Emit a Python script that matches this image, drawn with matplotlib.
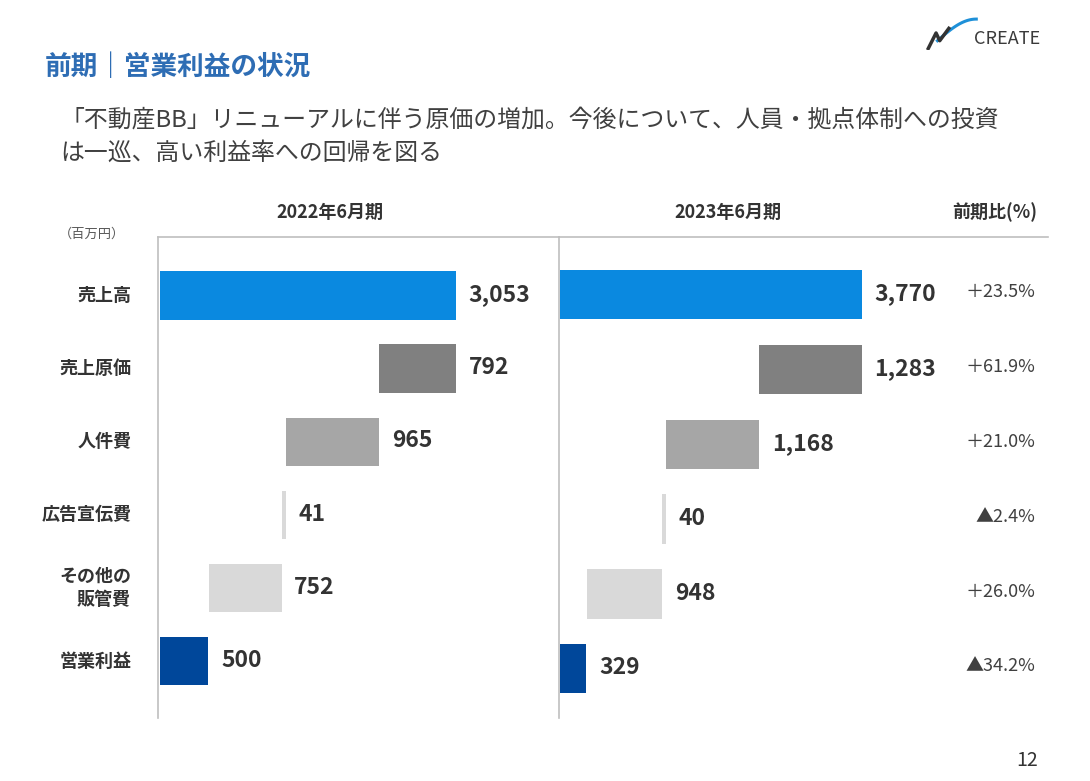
import numpy as np
import matplotlib
matplotlib.use("Agg")
import matplotlib.pyplot as plt

plt.rcParams["font.family"] = ["Noto Sans CJK JP", "DejaVu Sans"]

items = ["売上高", "売上原価", "人件費", "広告宣伝費", "その他の\n販管費", "営業利益"]
fy2022 = [3053, 792, 965, 41, 752, 500]
fy2023 = [3770, 1283, 1168, 40, 948, 329]
yoy_pct = [23.5, 61.9, 21.0, -2.4, 26.0, -34.2]
colors = ["#0A89E0", "#808080", "#A6A6A6", "#D9D9D9", "#D9D9D9", "#00479A"]

W, H = 1090, 781
fig = plt.figure(figsize=(W / 100, H / 100), dpi=100)


def fx(px):
    return px / W


def fy(py):
    return 1 - py / H


def waterfall_lefts(vals):
    lefts = [0]
    cur = vals[0]
    for v in vals[1:-1]:
        cur = cur - v
        lefts.append(cur)
    lefts.append(0)
    return np.array(lefts)


ax1 = fig.add_axes([fx(158), fy(718), fx(559 - 158), (718 - 237) / H])
ax2 = fig.add_axes([fx(559), fy(718), fx(1048 - 559), (718 - 237) / H])

rows = np.arange(len(items))
for ax, vals, xlim, ylim in [
    (ax1, fy2022, (-20.6, 4115), (5.78, -0.80)),
    (ax2, fy2023, (-12.5, 6092), (5.66, -0.77)),
]:
    lefts = waterfall_lefts(vals)
    ax.barh(rows, vals, left=lefts, height=0.66, color=colors)
    for i, (l, v) in enumerate(zip(lefts, vals)):
        ax.annotate(f"{v:,}", xy=(l + v, i), xytext=(9, 0.5), textcoords="offset points",
                    va="center", ha="left", fontsize=16.5, fontweight="bold", color="#333333")
    ax.set_xlim(*xlim)
    ax.set_ylim(*ylim)
    ax.set_xticks([])
    ax.set_yticks([])
    for s in ["right", "bottom"]:
        ax.spines[s].set_visible(False)
    for s in ["top", "left"]:
        ax.spines[s].set_color("#BFBFBF")
        ax.spines[s].set_linewidth(1.2)
    ax.patch.set_alpha(0)

# row labels
for i, name in enumerate(items):
    ax1.text(-0.067, i, name, transform=ax1.get_yaxis_transform(), ha="right", va="center",
             fontsize=13, fontweight="bold", color="#333333", linespacing=1.3)

# YoY column
for i, p in enumerate(yoy_pct):
    sign = "＋" if p >= 0 else "▲"
    ax2.text(0.975, i - 0.03, f"{sign}{abs(p):.1f}%", transform=ax2.get_yaxis_transform(),
             ha="right", va="center", fontsize=13, color="#404040")

# headers
fig.text(fx(330), fy(212), "2022年6月期", ha="center", va="center", fontsize=13,
         fontweight="bold", color="#333333")
fig.text(fx(728), fy(212), "2023年6月期", ha="center", va="center", fontsize=13,
         fontweight="bold", color="#333333")
fig.text(fx(995), fy(212), "前期比(%)", ha="center", va="center", fontsize=13,
         fontweight="bold", color="#333333")
fig.text(fx(92), fy(234), "（百万円）", ha="center", va="center", fontsize=9.5, color="#595959")

# title and message
fig.text(fx(45), fy(68), "前期｜営業利益の状況", ha="left", va="center", fontsize=19.2,
         fontweight="bold", color="#2E6DB4")
fig.text(fx(60), fy(120), "「不動産BB」リニューアルに伴う原価の増加。今後について、人員・拠点体制への投資",
         ha="left", va="center", fontsize=17.2, color="#404040")
fig.text(fx(60), fy(153), "は一巡、高い利益率への回帰を図る",
         ha="left", va="center", fontsize=17.2, color="#404040")

# logo
fig.text(fx(974), fy(39), "CREATE", ha="left", va="center", fontsize=13, color="#3A3A3A")
logo = fig.add_axes([fx(926), fy(50), fx(64), 34 / H])
t = np.linspace(0, 1, 50)
logo.plot(0.25 + 0.85 * t, 0.3 + 0.7 * np.sin(t * np.pi / 2), color="#1E90D8", lw=2.2)
logo.plot([0.05, 0.22, 0.3, 0.5], [0.05, 0.55, 0.3, 0.7], color="#333333", lw=2.5)
logo.set_xlim(0, 1.4)
logo.set_ylim(0, 1.1)
logo.axis("off")

fig.text(fx(1027), fy(760), "12", ha="center", va="center", fontsize=14, color="#333333")

fig.savefig("out.png", dpi=100)
